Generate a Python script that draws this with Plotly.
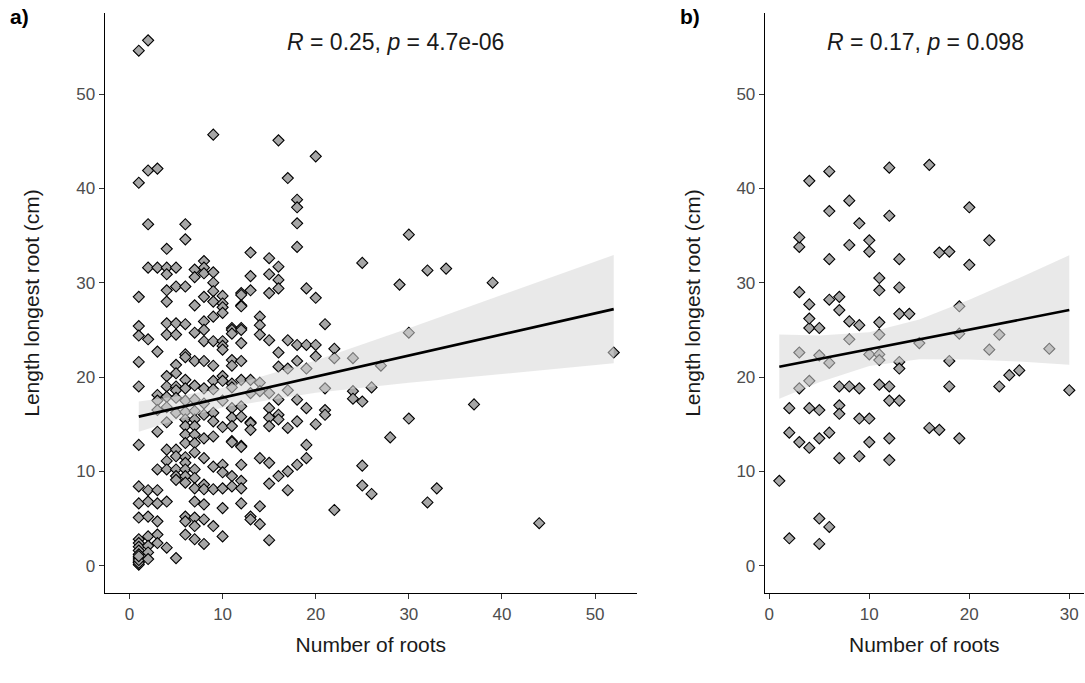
import plotly.graph_objects as go

W, H = 1085, 683

# ---------------- Panel a data ----------------
a_roots = [
    1, 1, 1, 1, 1, 1, 1, 1, 1, 1, 1, 1, 1, 1, 1, 1, 1, 1, 1, 1, 1, 1,
    2, 2, 2, 2, 2, 2, 2, 2, 2, 2, 2, 2,
    3, 3, 3, 3, 3, 3, 3, 3, 3, 3, 3, 3, 3,
    4, 4, 4, 4, 4, 4, 4, 4, 4, 4, 4, 4, 4, 4, 4, 4, 4,
    5, 5, 5, 5, 5, 5, 5, 5, 5, 5, 5, 5, 5, 5, 5, 5,
    6, 6, 6, 6, 6, 6, 6, 6, 6, 6, 6, 6, 6, 6, 6, 6, 6, 6, 6, 6, 6, 6,
    7, 7, 7, 7, 7, 7, 7, 7, 7, 7, 7, 7, 7, 7, 7, 7, 7, 7, 7, 7,
    8, 8, 8, 8, 8, 8, 8, 8, 8, 8, 8, 8, 8, 8, 8, 8, 8, 8,
    9, 9, 9, 9, 9, 9, 9, 9, 9, 9, 9, 9, 9, 9, 9, 9,
    10, 10, 10, 10, 10, 10, 10, 10, 10, 10, 10, 10, 10, 10, 10, 10,
    11, 11, 11, 11, 11, 11, 11, 11, 11, 11, 11, 11, 11, 11,
    12, 12, 12, 12, 12, 12, 12, 12, 12, 12, 12, 12, 12, 12, 12, 12, 12,
    13, 13, 13, 13, 13, 13, 13, 13, 13, 13,
    14, 14, 14, 14, 14, 14, 14, 14,
    15, 15, 15, 15, 15, 15, 15, 15, 15, 15, 15,
    16, 16, 16, 16, 16, 16, 16, 16, 16, 16,
    17, 17, 17, 17, 17, 17, 17,
    18, 18, 18, 18, 18, 18, 18, 18, 18,
    19, 19, 19, 19, 19, 19,
    20, 20, 20, 20, 20,
    21, 21, 21, 21,
    22, 22, 22,
    24, 24, 24,
    25, 25, 25, 25,
    26, 26,
    27, 28, 29,
    30, 30, 30,
    32, 32, 33, 34, 37, 39, 44, 52,
]
a_length = [
    54.6, 40.6, 28.5, 25.4, 24.4, 21.6, 19.0, 12.8, 8.4, 6.6, 5.1, 2.8, 2.4, 2.0, 1.6, 1.2, 0.8, 0.4, 0.1, 0.3, 0.6, 1.0,
    55.7, 41.9, 36.2, 31.6, 24.0, 8.0, 6.8, 5.2, 3.1, 2.1, 1.4, 0.7,
    42.1, 31.6, 22.7, 18.1, 17.5, 16.5, 14.2, 10.2, 8.0, 6.6, 4.7, 3.3, 2.4,
    33.6, 31.6, 30.9, 29.2, 28.0, 25.7, 24.5, 20.1, 19.0, 17.9, 16.8, 15.2, 12.3, 11.1, 10.2, 6.8, 1.9,
    31.6, 29.6, 25.7, 24.5, 21.3, 20.4, 19.0, 18.6, 17.8, 16.2, 12.3, 11.6, 10.2, 9.5, 9.1, 0.8,
    36.2, 34.6, 29.6, 25.6, 22.4, 22.1, 19.7, 18.8, 17.5, 16.3, 15.5, 14.8, 13.9, 13.0, 11.5, 10.9, 10.2, 9.5, 8.8, 5.2, 4.7, 3.3,
    31.4, 30.6, 27.6, 24.7, 21.7, 19.1, 17.6, 16.4, 15.5, 14.8, 13.9, 13.0, 12.0, 10.2, 9.3, 8.2, 6.8, 5.1, 4.2, 2.8,
    32.3, 31.6, 31.0, 28.5, 25.9, 25.0, 23.8, 21.7, 18.8, 17.2, 16.0, 13.5, 11.4, 8.6, 8.1, 6.5, 4.9, 2.3,
    45.7, 31.1, 30.0, 29.1, 28.0, 26.4, 23.8, 21.2, 19.6, 18.7, 16.2, 15.3, 13.7, 10.5, 8.1, 4.2,
    28.6, 27.8, 27.4, 26.8, 23.8, 23.3, 22.9, 20.1, 19.6, 17.5, 14.7, 10.7, 9.9, 8.2, 6.1, 3.1,
    25.2, 25.0, 24.6, 21.8, 21.2, 19.3, 18.9, 16.7, 15.7, 14.8, 13.2, 13.1, 9.5, 8.4,
    28.9, 28.7, 27.6, 27.5, 25.2, 25.0, 23.6, 21.7, 19.7, 16.9, 15.8, 12.7, 12.6, 10.7, 9.0, 8.2, 6.6,
    33.2, 30.7, 29.2, 19.7, 18.3, 15.2, 15.1, 14.4, 5.2, 4.9,
    26.4, 25.5, 24.5, 19.4, 18.5, 11.4, 6.3, 4.4,
    32.6, 30.9, 28.9, 23.9, 18.3, 16.7, 15.7, 14.8, 10.9, 8.7, 2.7,
    45.1, 31.7, 30.3, 29.4, 22.6, 21.1, 17.6, 16.0, 15.5, 9.5,
    41.1, 23.9, 20.9, 18.6, 14.6, 10.0, 8.0,
    38.8, 38.0, 36.3, 33.8, 23.4, 21.7, 17.6, 15.3, 10.7,
    29.4, 23.4, 20.9, 16.7, 12.8, 11.4,
    43.4, 28.4, 23.4, 22.2, 15.0,
    25.6, 18.8, 16.5, 16.0,
    23.0, 22.0, 5.9,
    22.0, 18.5, 17.7,
    32.1, 17.4, 10.6, 8.5,
    18.9, 7.6,
    21.2, 13.6, 29.8,
    35.1, 24.7, 15.6,
    31.3, 6.7, 8.2, 31.5, 17.1, 30.0, 4.5, 22.6,
]
# fitted line and confidence band
a_fit_x = [1, 52]
a_fit_y = [15.8, 27.2]
a_band_x = [1, 5, 10, 20, 30, 40, 52]
a_band_lo = [14.2, 15.45, 16.77, 18.34, 19.39, 20.34, 21.45]
a_band_hi = [17.4, 17.93, 18.85, 21.74, 25.17, 28.68, 32.95]

# ---------------- Panel b data ----------------
b_roots = [
    1,
    2, 2, 2,
    3, 3, 3, 3, 3, 3,
    4, 4, 4, 4, 4, 4, 4,
    5, 5, 5, 5, 5, 5,
    6, 6, 6, 6, 6, 6, 6,
    7, 7, 7, 7, 7, 7,
    8, 8, 8, 8, 8,
    9, 9, 9, 9, 9,
    10, 10, 10, 10, 10,
    11, 11, 11, 11, 11, 11, 11,
    12, 12, 12, 12, 12, 12,
    13, 13, 13, 13, 13, 13,
    14, 15, 16, 16, 17, 17,
    18, 18, 18, 19, 19, 19,
    20, 20, 22, 22, 23, 23,
    24, 25, 28, 30,
]
b_length = [
    9.0,
    2.9, 16.7, 14.1,
    13.1, 18.8, 22.6, 29.0, 33.8, 34.8,
    12.5, 16.7, 19.6, 25.2, 26.2, 27.7, 40.8,
    5.0, 2.3, 13.5, 16.5, 22.3, 25.2,
    4.1, 14.1, 21.5, 28.2, 32.5, 37.6, 41.8,
    28.5, 27.1, 19.0, 17.0, 16.1, 11.4,
    25.9, 24.0, 19.0, 38.7, 34.0,
    25.5, 18.8, 15.6, 11.6, 36.3,
    15.6, 13.1, 34.5, 33.3, 22.4,
    30.5, 29.2, 25.8, 24.5, 22.4, 21.8, 19.2,
    42.2, 37.1, 19.0, 17.5, 13.5, 11.2,
    32.5, 29.5, 26.7, 21.6, 20.9, 17.5,
    26.7, 23.6, 42.5, 14.6, 14.4, 33.2,
    33.3, 21.7, 19.0, 13.5, 27.5, 24.6,
    38.0, 31.9, 34.5, 22.9, 24.5, 19.0,
    20.2, 20.7, 23.0, 18.6,
]
b_fit_x = [1, 30]
b_fit_y = [21.1, 27.1]
b_band_x = [1, 5, 10, 15, 20, 25, 30]
b_band_lo = [17.7, 19.45, 21.17, 21.89, 21.87, 21.64, 21.3]
b_band_hi = [24.5, 24.41, 24.75, 26.11, 28.19, 30.5, 32.9]

y_ticks = [0, 10, 20, 30, 40, 50]
a_x_ticks = [0, 10, 20, 30, 40, 50]
b_x_ticks = [0, 10, 20, 30]

annot_a = "<i>R</i> = 0.25, <i>p</i> = 4.7e-06"
annot_b = "<i>R</i> = 0.17, <i>p</i> = 0.098"

FONT = "Arial, Liberation Sans, sans-serif"
PT_FILL = "#A6A6A6"
BAND = "rgba(215,215,215,0.55)"
TITLE_SIZE = 21
TICK_SIZE = 17

fig = go.Figure()


def add_panel(xs, ys, fx, fy, bx, blo, bhi, xa, ya):
    fig.add_trace(go.Scatter(
        x=xs, y=ys, mode="markers", xaxis=xa, yaxis=ya,
        marker=dict(symbol="diamond", size=8.5, color=PT_FILL,
                    line=dict(color="black", width=1.1)),
        showlegend=False, hoverinfo="skip"))
    fig.add_trace(go.Scatter(
        x=list(bx) + list(bx)[::-1], y=list(bhi) + list(blo)[::-1],
        fill="toself", fillcolor=BAND, line=dict(width=0), mode="lines",
        xaxis=xa, yaxis=ya, showlegend=False, hoverinfo="skip"))
    fig.add_trace(go.Scatter(
        x=fx, y=fy, mode="lines", line=dict(color="black", width=2.6),
        xaxis=xa, yaxis=ya, showlegend=False, hoverinfo="skip"))


add_panel(a_roots, a_length, a_fit_x, a_fit_y, a_band_x, a_band_lo, a_band_hi, "x", "y")
add_panel(b_roots, b_length, b_fit_x, b_fit_y, b_band_x, b_band_lo, b_band_hi, "x2", "y2")


def px_x(p):
    return p / W


def px_y(p):
    return 1 - p / H


ydom = [px_y(593), px_y(13)]
axis_common = dict(
    showgrid=False, zeroline=False, showline=True, linecolor="black", linewidth=1.2,
    ticks="outside", ticklen=5, tickwidth=1.2, tickcolor="#333333",
    tickfont=dict(family=FONT, size=TICK_SIZE, color="#4D4D4D"),
)
xtitle = dict(text="Number of roots", font=dict(family=FONT, size=TITLE_SIZE, color="#1a1a1a"), standoff=14)
ytitle = dict(text="Length longest root (cm)", font=dict(family=FONT, size=TITLE_SIZE, color="#1a1a1a"), standoff=30)

fig.update_layout(
    width=W, height=H, margin=dict(l=0, r=0, t=0, b=0),
    plot_bgcolor="white", paper_bgcolor="white",
    font=dict(family=FONT),
    xaxis=dict(domain=[px_x(104.7), px_x(637)], range=[-2.66, 54.5], tickvals=a_x_ticks,
               anchor="y", title=xtitle, **axis_common),
    yaxis=dict(domain=ydom, range=[-2.9, 58.6], tickvals=y_ticks, anchor="x",
               title=ytitle, **axis_common),
    xaxis2=dict(domain=[px_x(764.8), px_x(1083.8)], range=[-0.45, 31.45], tickvals=b_x_ticks,
                anchor="y2", title=xtitle, **axis_common),
    yaxis2=dict(domain=ydom, range=[-2.9, 58.6], tickvals=y_ticks, anchor="x2",
                title=ytitle, **axis_common),
    annotations=[
        dict(text=annot_a, xref="paper", yref="paper", x=px_x(395), y=px_y(42),
             showarrow=False, xanchor="center", yanchor="middle",
             font=dict(family=FONT, size=23, color="#1a1a1a")),
        dict(text=annot_b, xref="paper", yref="paper", x=px_x(925), y=px_y(42),
             showarrow=False, xanchor="center", yanchor="middle",
             font=dict(family=FONT, size=23, color="#1a1a1a")),
        dict(text="<b>a)</b>", xref="paper", yref="paper", x=px_x(8), y=px_y(16),
             showarrow=False, xanchor="left", yanchor="middle",
             font=dict(family=FONT, size=21, color="black")),
        dict(text="<b>b)</b>", xref="paper", yref="paper", x=px_x(678), y=px_y(16),
             showarrow=False, xanchor="left", yanchor="middle",
             font=dict(family=FONT, size=21, color="black")),
    ],
)

fig.write_html("out.html")
